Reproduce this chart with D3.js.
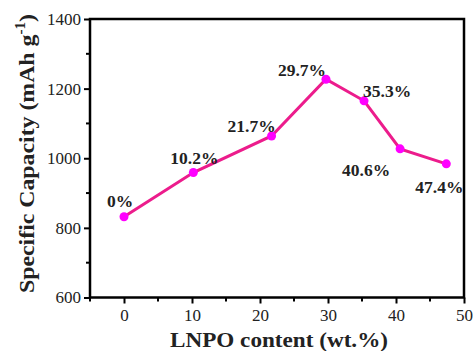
<!DOCTYPE html>
<html><head><meta charset="utf-8">
<script src="https://cdn.jsdelivr.net/npm/d3@7"></script>
<style>body{margin:0;background:#fff}svg{display:block}</style>
</head><body><svg id="c" width="476" height="351"></svg>
<script>
const content = [0, 10.2, 21.7, 29.7, 35.3, 40.6, 47.4];
const capacity = [832, 959, 1064, 1227, 1165, 1027, 984];
const labels = ["0%", "10.2%", "21.7%", "29.7%", "35.3%", "40.6%", "47.4%"];
const xTicks = [0, 10, 20, 30, 40, 50];
const yTicks = [600, 800, 1000, 1200, 1400];

const svg = d3.select("#c");
const L = 90, R = 464, T = 19, B = 297.5;
const x = d3.scaleLinear().domain([-5, 50]).range([L, R]);
const y = d3.scaleLinear().domain([600, 1400]).range([B, T]);
const font = "'Liberation Serif','Times New Roman',serif";

// minor ticks
const xMinor = d3.range(-5, 51, 5).filter(v => !xTicks.includes(v));
const yMinor = d3.range(700, 1400, 200);
const g = svg.append("g");
g.selectAll(".xmin").data(xMinor).enter().append("line")
  .attr("x1", d => x(d)).attr("x2", d => x(d)).attr("y1", B).attr("y2", B + 4)
  .attr("stroke", "#000").attr("stroke-width", 2);
g.selectAll(".ymin").data(yMinor).enter().append("line")
  .attr("y1", d => y(d)).attr("y2", d => y(d)).attr("x1", L).attr("x2", L - 4)
  .attr("stroke", "#000").attr("stroke-width", 2);

const xa = svg.append("g").attr("transform", `translate(0,${B})`)
  .call(d3.axisBottom(x).tickValues(xTicks).tickFormat(d3.format("d")).tickSize(6).tickPadding(5).tickSizeOuter(0));
const ya = svg.append("g").attr("transform", `translate(${L},0)`)
  .call(d3.axisLeft(y).tickValues(yTicks).tickFormat(d3.format("d")).tickSize(6).tickPadding(3).tickSizeOuter(0));
[xa, ya].forEach(a => {
  a.select(".domain").remove();
  a.selectAll("line").attr("stroke", "#000").attr("stroke-width", 2);
  a.selectAll("text").attr("font-family", font).attr("font-size", 17).attr("fill", "#222");
});

// frame
svg.append("rect").attr("x", L).attr("y", T).attr("width", R - L).attr("height", B - T)
  .attr("fill", "none").attr("stroke", "#000").attr("stroke-width", 2.5);

const data = content.map((c, i) => ({c, v: capacity[i], l: labels[i]}));
svg.append("path").datum(data)
  .attr("d", d3.line().x(d => x(d.c)).y(d => y(d.v)))
  .attr("fill", "none").attr("stroke", "#ec1c8c").attr("stroke-width", 3);
svg.selectAll(".pt").data(data).enter().append("circle")
  .attr("cx", d => x(d.c)).attr("cy", d => y(d.v)).attr("r", 4.5).attr("fill", "#ff00ff");

// label offsets (dx, dy relative to point, start anchor)
const off = [[-17, -10], [-23, -9], [-44, -4], [-48, -3], [-1, -4], [-58, 27], [-31, 29]];
svg.selectAll(".lbl").data(data).enter().append("text")
  .attr("x", (d, i) => x(d.c) + off[i][0]).attr("y", (d, i) => y(d.v) + off[i][1])
  .attr("font-family", font).attr("font-size", 17.5).attr("font-weight", "bold").attr("fill", "#222")
  .text(d => d.l);

svg.append("text").attr("x", 170).attr("y", 347)
  .attr("textLength", 218).attr("lengthAdjust", "spacingAndGlyphs")
  .attr("font-family", font).attr("font-size", 22).attr("font-weight", "bold")
  .attr("fill", "#222").text("LNPO content (wt.%)");

const yl = svg.append("text").attr("transform", "translate(34,293) rotate(-90)")
  .attr("textLength", 279).attr("lengthAdjust", "spacingAndGlyphs")
  .attr("font-family", font).attr("font-size", 22).attr("font-weight", "bold")
  .attr("fill", "#222");
yl.append("tspan").text("Specific Capacity (mAh g");
yl.append("tspan").attr("font-size", 14).attr("dy", -9).text("-1");
yl.append("tspan").attr("dy", 9).text(")");
</script></body></html>
